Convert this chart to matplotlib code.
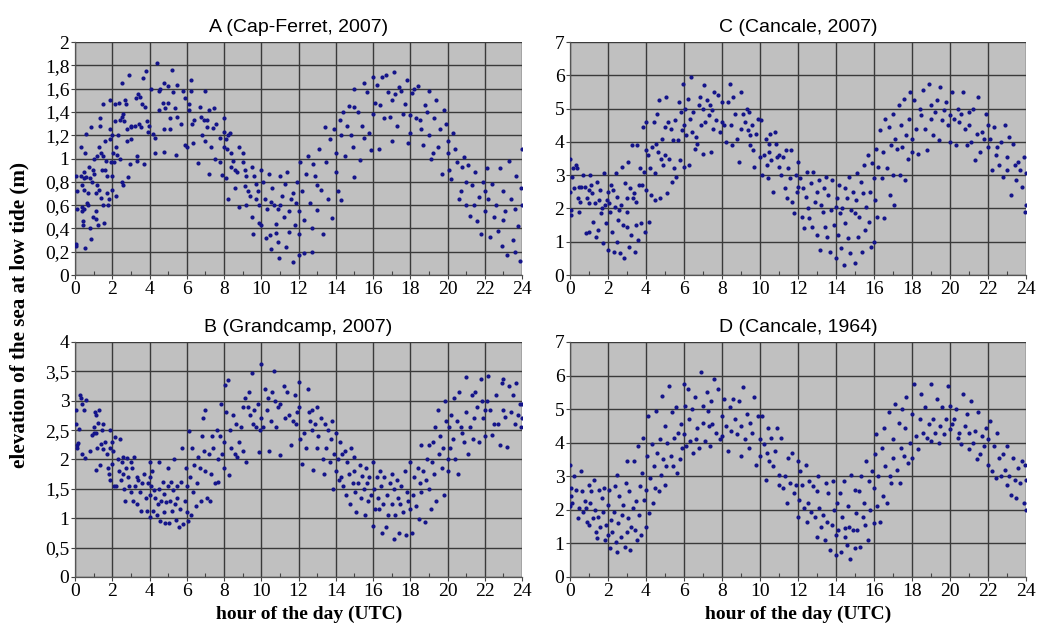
import numpy as np
from matplotlib import pyplot as plt
from matplotlib.ticker import FuncFormatter, MultipleLocator

# (hour, elevation) pairs
cap_ferret_2007 = [
    (0.05,0.27),(0.05,0.25),(0.05,0.85),(0.1,0.72),(0.1,0.57),(0.3,1.1),(0.3,0.85),(0.35,0.77),(0.4,0.58),(0.4,0.55),
    (0.45,0.46),(0.45,0.43),(0.5,0.88),(0.5,0.83),(0.5,0.73),(0.5,0.57),(0.55,0.23),(0.55,1.05),(0.6,1.21),(0.6,0.84),
    (0.65,0.62),(0.7,0.6),(0.7,0.7),(0.75,0.93),(0.8,0.83),(0.8,0.4),(0.85,0.31),(0.85,1.27),(0.9,0.8),(0.95,0.9),
    (0.95,0.5),(1.0,1.0),(1.0,0.87),(1.1,0.7),(1.1,0.55),(1.15,0.48),(1.2,1.02),(1.2,0.77),(1.25,0.43),(1.3,1.1),
    (1.3,0.73),(1.35,1.28),(1.35,1.35),(1.4,1.05),(1.4,0.66),(1.45,0.9),(1.5,1.02),(1.5,0.6),(1.5,1.47),(1.55,0.45),
    (1.6,0.9),(1.6,1.15),(1.65,0.98),(1.7,0.85),(1.7,0.7),(1.75,0.6),(1.8,0.65),(1.85,1.25),(1.9,1.17),(1.9,1.5),
    (1.95,0.97),(2.0,1.2),(2.0,0.73),(2.0,0.85),(2.05,1.05),(2.1,0.97),(2.15,1.47),(2.15,1.32),(2.2,1.1),(2.2,0.68),
    (2.25,1.03),(2.3,1.2),(2.35,1.48),(2.4,1.33),(2.4,1.0),(2.5,1.36),(2.5,1.65),(2.5,0.8),(2.55,0.77),(2.6,1.38),
    (2.65,1.32),(2.7,1.5),(2.75,1.47),(2.8,1.25),(2.8,1.15),(2.85,0.84),(2.9,1.72),(2.95,0.95),(3.0,1.28),(3.0,1.17),
    (3.0,1.27),(3.2,1.28),(3.25,1.52),(3.3,1.02),(3.35,0.98),(3.4,1.55),(3.45,1.3),(3.5,1.53),(3.55,1.27),(3.6,1.47),
    (3.65,1.69),(3.7,0.95),(3.75,1.44),(3.8,1.75),(3.85,1.32),(3.9,1.23),(3.95,1.28),(4.1,1.6),(4.2,1.21),(4.3,1.05),
    (4.3,1.18),(4.4,1.82),(4.5,1.58),(4.5,1.42),(4.55,1.6),(4.7,1.48),(4.75,1.65),(4.8,1.25),(4.8,1.06),(4.85,1.43),
    (5.0,1.62),(5.0,1.48),(5.1,1.35),(5.1,1.25),(5.2,1.76),(5.25,1.57),(5.35,1.43),(5.4,1.03),(5.5,1.63),(5.5,1.36),
    (5.7,1.3),(5.8,1.58),(5.9,1.52),(5.9,1.12),(6.0,1.1),(6.1,1.47),(6.1,1.42),(6.2,1.67),(6.2,1.58),(6.3,1.3),
    (6.35,1.13),(6.4,1.33),(6.6,0.96),(6.7,1.44),(6.75,1.36),(6.8,1.2),(6.9,1.33),(7.0,1.15),(7.0,1.58),(7.1,1.33),
    (7.1,1.27),(7.2,0.87),(7.2,1.42),(7.3,1.1),(7.4,1.26),(7.45,1.43),(7.5,1.0),(7.55,1.3),(7.8,1.18),(7.8,0.97),
    (7.9,0.86),(8.0,1.1),(8.0,1.23),(8.0,1.35),(8.1,1.17),(8.1,0.83),(8.15,1.08),(8.2,1.2),(8.2,0.65),(8.3,1.22),
    (8.4,1.05),(8.4,0.93),(8.5,0.98),(8.6,0.9),(8.6,0.75),(8.7,0.88),(8.8,1.1),(8.8,0.58),(9.0,1.05),(9.0,0.97),
    (9.1,0.9),(9.1,0.76),(9.2,0.85),(9.2,0.6),(9.3,0.72),(9.4,0.68),(9.5,0.93),(9.5,0.5),(9.55,0.35),(9.6,0.85),
    (9.7,0.78),(9.7,0.65),(9.8,0.72),(9.9,0.6),(9.9,0.45),(10.0,0.9),(10.0,0.43),(10.1,0.8),(10.2,0.65),(10.25,0.32),
    (10.3,0.57),(10.4,0.87),(10.45,0.34),(10.5,0.22),(10.5,0.63),(10.6,0.75),(10.7,0.6),(10.8,0.44),(10.8,0.36),(10.9,0.57),
    (10.9,0.28),(10.95,0.15),(11.0,0.85),(11.0,0.6),(11.1,0.68),(11.2,0.5),(11.3,0.78),(11.35,0.24),(11.4,0.88),(11.5,0.55),
    (11.5,0.37),(11.6,0.65),(11.7,0.7),(11.7,0.11),(11.8,0.43),(11.85,0.62),(11.9,0.8),(12.0,0.55),(12.0,0.35),(12.0,0.17),
    (12.1,0.97),(12.2,0.72),(12.3,0.47),(12.3,0.19),(12.4,0.87),(12.5,1.02),(12.6,0.62),(12.7,0.4),(12.75,0.2),(12.8,0.95),
    (12.9,0.85),(13.0,0.56),(13.0,0.77),(13.1,1.08),(13.2,0.73),(13.3,0.35),(13.4,1.27),(13.5,0.97),(13.6,0.65),(13.7,1.17),
    (13.8,0.49),(13.9,1.25),(14.0,1.05),(14.0,0.88),(14.1,0.72),(14.2,1.33),(14.3,1.2),(14.3,0.64),(14.4,1.4),(14.5,1.02),
    (14.6,1.28),(14.7,1.45),(14.8,1.2),(14.9,1.1),(15.0,0.84),(15.0,1.44),(15.0,1.6),(15.2,1.4),(15.3,0.99),(15.4,1.28),
    (15.5,1.65),(15.5,1.18),(15.7,1.57),(15.8,1.22),(15.9,1.07),(16.0,1.7),(16.0,1.38),(16.1,1.48),(16.2,1.63),(16.3,1.08),
    (16.4,1.46),(16.5,1.7),(16.6,1.35),(16.7,1.72),(16.8,1.57),(16.9,1.36),(17.0,1.15),(17.0,1.5),(17.1,1.74),(17.2,1.55),
    (17.3,1.28),(17.4,1.61),(17.5,1.58),(17.6,1.38),(17.7,1.47),(17.8,1.67),(17.9,1.13),(18.0,1.22),(18.0,1.37),(18.1,1.56),
    (18.2,1.6),(18.3,1.35),(18.4,1.62),(18.5,1.33),(18.6,1.25),(18.7,1.12),(18.8,1.46),(18.9,1.4),(19.0,1.58),(19.0,1.2),
    (19.1,1.0),(19.2,1.05),(19.3,1.35),(19.4,1.5),(19.5,1.1),(19.6,1.25),(19.7,0.87),(19.8,1.42),(19.9,1.3),(20.0,1.05),
    (20.0,1.15),(20.1,0.9),(20.2,0.82),(20.3,1.22),(20.4,1.08),(20.5,0.97),(20.6,0.65),(20.7,0.72),(20.8,0.93),(20.9,1.01),
    (21.0,0.8),(21.0,0.6),(21.1,0.94),(21.2,0.51),(21.3,0.77),(21.4,0.6),(21.5,0.88),(21.6,0.46),(21.7,0.67),(21.8,0.35),
    (21.9,0.8),(22.0,0.55),(22.0,0.72),(22.1,0.92),(22.2,0.65),(22.3,0.33),(22.4,0.78),(22.5,0.5),(22.6,0.6),(22.7,0.38),
    (22.8,0.92),(22.9,0.25),(23.0,0.72),(23.0,0.47),(23.1,0.55),(23.2,0.17),(23.3,0.98),(23.4,0.65),(23.5,0.3),(23.6,0.57),
    (23.7,0.85),(23.8,0.42),(23.9,0.12),(24.0,0.6),(24.0,1.08),(23.95,0.75),(23.6,0.2),
]

grandcamp_2007 = [
    (0.05,2.6),(0.05,2.85),(0.1,2.25),(0.1,2.2),(0.15,2.28),(0.2,2.52),(0.25,3.1),(0.3,3.05),(0.35,2.95),(0.4,2.1),
    (0.5,2.85),(0.55,2.02),(0.6,3.02),(0.8,2.15),(0.9,2.42),(1.0,2.45),(1.0,2.55),(1.05,2.8),(1.1,2.75),(1.1,1.82),
    (1.15,2.45),(1.2,2.2),(1.25,2.62),(1.3,2.85),(1.35,1.9),(1.4,2.27),(1.45,2.5),(1.5,2.6),(1.5,2.18),(1.6,2.3),
    (1.7,2.1),(1.75,1.85),(1.8,1.75),(1.85,1.65),(1.9,2.5),(1.9,2.2),(2.0,2.3),(2.0,1.92),(2.05,2.15),(2.1,1.55),
    (2.15,2.38),(2.2,1.55),(2.3,2.0),(2.35,1.8),(2.4,2.35),(2.45,1.65),(2.5,1.95),(2.55,1.75),(2.6,2.05),(2.65,1.5),
    (2.7,1.3),(2.75,1.85),(2.8,2.02),(2.85,1.7),(2.9,1.55),(3.0,1.95),(3.0,1.45),(3.05,1.85),(3.1,1.3),(3.15,2.05),
    (3.2,1.55),(3.3,1.7),(3.35,1.25),(3.4,1.65),(3.5,1.45),(3.55,1.13),(3.6,1.6),(3.7,1.75),(3.8,1.35),(3.85,1.12),
    (3.9,1.6),(4.0,1.95),(4.0,1.7),(4.0,1.4),(4.05,1.02),(4.1,1.55),(4.15,1.8),(4.2,1.12),(4.25,1.48),(4.3,1.35),
    (4.4,1.05),(4.45,1.25),(4.5,1.95),(4.5,1.5),(4.55,0.95),(4.6,1.3),(4.7,1.62),(4.75,1.1),(4.8,1.42),(4.85,0.92),
    (4.9,1.28),(5.0,1.55),(5.0,1.85),(5.05,0.92),(5.1,1.3),(5.15,1.62),(5.2,1.12),(5.25,1.48),(5.3,2.0),(5.35,1.25),
    (5.4,0.97),(5.5,1.55),(5.5,1.35),(5.6,0.85),(5.65,1.15),(5.7,1.62),(5.75,2.2),(5.8,0.9),(5.9,1.3),(5.95,1.85),
    (6.0,1.55),(6.0,1.1),(6.05,0.95),(6.1,2.48),(6.15,1.7),(6.2,1.05),(6.3,2.2),(6.35,1.45),(6.4,1.9),(6.5,1.2),
    (6.55,1.6),(6.6,2.05),(6.7,1.85),(6.75,1.3),(6.8,2.4),(6.85,2.7),(6.9,2.15),(7.0,1.8),(7.0,2.85),(7.1,1.35),
    (7.2,2.1),(7.25,1.3),(7.3,1.75),(7.35,2.4),(7.4,2.2),(7.5,1.6),(7.6,2.5),(7.65,2.0),(7.7,1.62),(7.8,2.4),
    (7.85,2.95),(7.9,2.1),(8.0,2.3),(8.0,1.85),(8.05,3.27),(8.1,2.8),(8.2,3.35),(8.25,1.73),(8.3,2.5),(8.4,2.2),
    (8.5,2.75),(8.6,2.1),(8.65,2.6),(8.7,2.05),(8.8,2.3),(8.9,2.55),(9.0,2.9),(9.0,2.15),(9.1,3.05),(9.2,1.95),
    (9.3,2.9),(9.35,3.15),(9.4,2.75),(9.5,3.48),(9.55,2.6),(9.6,2.85),(9.7,2.55),(9.8,2.95),(9.9,2.12),(9.95,2.5),
    (10.0,3.62),(10.0,2.7),(10.1,2.55),(10.2,3.2),(10.3,2.85),(10.35,3.05),(10.4,2.15),(10.5,2.65),(10.6,3.15),(10.7,3.5),
    (10.75,3.0),(10.8,2.55),(10.9,2.9),(11.0,2.95),(11.0,2.07),(11.2,3.25),(11.3,2.7),(11.4,3.15),(11.5,2.75),(11.6,2.25),
    (11.7,2.65),(11.8,3.1),(11.85,2.6),(11.9,2.8),(12.0,3.32),(12.0,2.9),(12.1,2.35),(12.2,1.93),(12.3,2.45),(12.4,2.2),
    (12.5,3.2),(12.55,2.8),(12.6,2.65),(12.7,2.85),(12.75,2.5),(12.8,1.82),(12.9,2.6),(13.0,2.9),(13.0,2.2),(13.05,2.4),
    (13.2,2.7),(13.3,2.0),(13.35,1.75),(13.4,2.6),(13.5,2.2),(13.6,2.5),(13.7,1.95),(13.75,2.35),(13.8,2.65),(13.85,1.5),
    (13.9,2.1),(14.0,2.45),(14.0,1.8),(14.1,2.0),(14.15,1.65),(14.2,2.3),(14.3,1.7),(14.35,2.1),(14.4,1.55),(14.5,2.15),
    (14.55,1.4),(14.6,1.95),(14.7,1.75),(14.75,1.25),(14.8,2.2),(14.9,1.6),(15.0,2.05),(15.0,1.8),(15.05,1.45),(15.1,1.1),
    (15.2,1.6),(15.3,1.9),(15.35,1.35),(15.4,1.72),(15.5,1.5),(15.55,1.05),(15.6,1.85),(15.7,1.6),(15.75,1.3),(15.8,1.7),
    (15.9,1.4),(16.0,1.95),(16.0,0.87),(16.05,1.5),(16.1,1.15),(16.2,1.7),(16.25,1.35),(16.3,1.15),(16.4,1.8),(16.45,1.55),
    (16.5,0.75),(16.55,1.25),(16.6,1.7),(16.7,0.85),(16.75,1.4),(16.8,1.05),(16.9,1.6),(17.0,1.25),(17.0,1.75),(17.1,0.65),
    (17.15,1.5),(17.2,1.05),(17.3,1.65),(17.35,1.35),(17.4,0.75),(17.45,1.25),(17.5,1.55),(17.6,1.1),(17.7,1.8),(17.75,0.72),
    (17.8,1.45),(17.9,1.3),(18.0,1.95),(18.0,1.15),(18.1,0.75),(18.15,1.4),(18.2,1.7),(18.3,1.2),(18.4,1.85),(18.45,0.98),
    (18.5,1.6),(18.55,2.25),(18.6,1.45),(18.7,1.8),(18.8,0.93),(18.85,1.65),(18.9,2.0),(19.0,2.25),(19.0,1.5),(19.1,1.15),
    (19.15,1.95),(19.2,2.3),(19.3,1.75),(19.35,2.55),(19.4,1.3),(19.5,2.85),(19.55,2.1),(19.6,2.4),(19.7,1.85),(19.75,2.2),
    (19.8,1.4),(19.85,3.0),(19.9,2.65),(20.0,2.0),(20.0,1.8),(20.1,2.55),(20.15,2.2),(20.2,2.75),(20.3,2.35),(20.35,3.05),
    (20.4,2.0),(20.5,2.65),(20.55,1.75),(20.6,3.15),(20.7,2.55),(20.8,2.45),(20.9,2.3),(21.0,2.8),(21.0,3.4),(21.1,2.1),
    (21.2,2.55),(21.3,3.1),(21.35,2.35),(21.4,2.7),(21.5,3.15),(21.6,2.9),(21.7,2.3),(21.8,3.37),(21.85,3.0),(21.9,2.7),
    (22.0,2.85),(22.0,2.4),(22.1,3.0),(22.2,3.42),(22.3,2.85),(22.4,2.42),(22.5,2.6),(22.6,3.1),(22.7,2.6),(22.8,2.25),
    (22.9,3.3),(23.0,2.85),(23.0,3.37),(23.1,2.72),(23.2,2.22),(23.3,3.25),(23.4,2.8),(23.5,3.1),(23.6,2.6),(23.7,3.3),
    (23.8,2.75),(23.9,2.95),(24.0,2.7),(24.0,2.95),(23.95,2.55),
]

cancale_2007 = [
    (0.0,3.5),(0.0,2.5),(0.05,1.8),(0.05,1.95),(0.1,2.95),(0.15,3.2),(0.2,2.6),(0.3,3.3),(0.35,3.2),(0.4,2.3),
    (0.45,2.65),(0.5,1.9),(0.55,2.2),(0.6,2.65),(0.7,3.0),(0.8,2.65),(0.85,1.25),(0.9,2.3),(1.0,1.3),(1.0,2.55),
    (1.0,2.15),(1.05,3.0),(1.1,2.7),(1.15,2.45),(1.2,1.6),(1.3,2.15),(1.35,1.15),(1.4,2.8),(1.5,1.35),(1.55,2.25),
    (1.6,2.55),(1.65,1.85),(1.7,2.0),(1.75,0.95),(1.8,3.05),(1.85,2.1),(1.9,1.55),(1.95,2.25),(2.0,2.5),(2.0,0.75),
    (2.05,2.15),(2.1,1.9),(2.15,2.7),(2.2,1.3),(2.25,2.55),(2.3,0.7),(2.35,2.05),(2.4,3.05),(2.45,1.0),(2.5,2.35),
    (2.55,1.65),(2.6,1.95),(2.65,0.65),(2.7,2.1),(2.75,3.25),(2.8,1.5),(2.85,0.5),(2.9,2.75),(3.0,1.9),(3.0,2.3),
    (3.0,1.45),(3.05,3.4),(3.1,0.85),(3.15,2.6),(3.2,1.2),(3.25,3.9),(3.3,2.3),(3.35,2.45),(3.4,0.7),(3.45,1.5),
    (3.5,2.2),(3.55,3.9),(3.6,1.05),(3.65,2.7),(3.7,3.2),(3.75,1.55),(3.8,2.7),(3.85,4.45),(3.9,3.1),(3.95,1.3),
    (4.0,2.55),(4.0,3.75),(4.0,4.6),(4.1,3.6),(4.15,1.6),(4.2,3.2),(4.25,2.4),(4.3,3.85),(4.4,4.6),(4.45,3.05),
    (4.5,2.25),(4.55,3.95),(4.6,4.85),(4.65,3.7),(4.7,5.25),(4.75,2.3),(4.8,3.5),(4.85,4.1),(4.9,3.3),(5.0,4.45),
    (5.0,3.6),(5.05,5.35),(5.1,2.45),(5.15,4.6),(5.2,3.5),(5.3,4.4),(5.35,2.8),(5.4,4.05),(5.5,3.2),(5.55,4.65),
    (5.6,2.95),(5.7,4.05),(5.75,5.2),(5.8,3.45),(5.85,4.9),(5.9,4.35),(5.95,5.75),(6.0,3.25),(6.0,4.5),(6.05,5.0),
    (6.1,4.2),(6.2,5.3),(6.25,3.3),(6.3,4.7),(6.35,5.95),(6.4,4.3),(6.5,4.9),(6.6,3.8),(6.65,4.15),(6.7,3.95),
    (6.8,5.1),(6.85,5.35),(6.9,4.5),(7.0,5.0),(7.0,3.65),(7.05,5.7),(7.1,4.6),(7.2,5.25),(7.3,4.8),(7.35,5.1),
    (7.4,3.7),(7.5,4.95),(7.55,4.4),(7.6,5.5),(7.7,4.65),(7.8,5.4),(7.9,4.3),(8.0,5.2),(8.0,4.6),(8.1,4.5),
    (8.2,4.0),(8.3,5.2),(8.4,5.75),(8.5,4.5),(8.55,3.9),(8.6,5.35),(8.7,4.85),(8.8,4.1),(8.9,3.4),(9.0,5.5),
    (9.0,4.4),(9.1,4.85),(9.2,4.6),(9.3,5.0),(9.35,4.35),(9.4,4.9),(9.45,4.2),(9.5,3.9),(9.6,4.5),(9.65,3.75),
    (9.7,3.25),(9.8,4.25),(9.9,4.7),(10.0,3.55),(10.05,4.65),(10.1,3.0),(10.2,3.6),(10.3,4.1),(10.35,3.3),(10.4,2.9),
    (10.45,3.95),(10.5,3.7),(10.55,4.25),(10.6,3.45),(10.7,2.5),(10.8,4.3),(10.85,3.95),(10.9,3.55),(11.0,3.25),(11.0,3.6),
    (11.1,3.0),(11.2,3.55),(11.3,2.6),(11.35,3.75),(11.4,2.3),(11.5,3.2),(11.6,2.9),(11.65,3.75),(11.7,2.2),(11.8,1.85),
    (11.9,3.0),(11.95,2.5),(12.0,3.4),(12.0,2.65),(12.1,2.9),(12.2,1.75),(12.25,2.6),(12.3,1.4),(12.4,2.35),(12.5,3.1),
    (12.55,2.0),(12.6,1.7),(12.7,2.75),(12.75,1.45),(12.8,3.1),(12.9,2.2),(13.0,2.5),(13.0,1.2),(13.1,2.85),(13.15,0.75),
    (13.2,2.1),(13.3,1.9),(13.35,2.6),(13.4,1.45),(13.5,2.95),(13.55,1.15),(13.6,2.4),(13.7,0.7),(13.75,1.95),(13.8,2.85),
    (13.9,1.5),(14.0,2.05),(14.0,0.5),(14.05,2.3),(14.1,1.2),(14.15,2.7),(14.2,1.85),(14.25,0.8),(14.3,2.0),(14.4,0.3),
    (14.45,2.6),(14.5,1.55),(14.6,2.3),(14.65,1.1),(14.7,2.95),(14.75,0.65),(14.8,1.95),(14.9,2.5),(15.0,1.85),(15.0,0.35),
    (15.05,2.25),(15.1,3.05),(15.15,1.15),(15.2,1.75),(15.3,2.8),(15.35,0.7),(15.4,2.45),(15.5,3.3),(15.55,1.35),(15.6,2.05),
    (15.7,3.6),(15.75,1.6),(15.8,2.5),(15.85,0.85),(15.9,3.35),(16.0,2.9),(16.0,1.0),(16.05,2.25),(16.1,3.8),(16.15,1.75),
    (16.2,3.25),(16.3,4.35),(16.4,2.9),(16.5,3.7),(16.55,1.7),(16.6,4.7),(16.7,3.2),(16.8,4.45),(16.85,2.4),(16.9,3.9),
    (17.0,3.0),(17.0,4.85),(17.05,2.1),(17.1,4.1),(17.2,3.8),(17.3,5.1),(17.35,3.0),(17.4,4.5),(17.5,3.85),(17.6,5.3),
    (17.65,2.85),(17.7,4.2),(17.8,3.5),(17.85,4.7),(17.9,5.5),(18.0,4.1),(18.0,3.7),(18.1,5.25),(18.2,4.4),(18.3,3.65),
    (18.4,5.0),(18.5,4.8),(18.6,5.55),(18.7,4.4),(18.8,3.75),(18.9,5.75),(19.0,4.7),(19.0,5.1),(19.1,4.2),(19.2,4.9),
    (19.3,5.25),(19.4,4.05),(19.5,5.65),(19.6,4.65),(19.7,4.95),(19.8,5.2),(19.9,4.5),(20.0,4.8),(20.0,4.0),(20.1,5.5),
    (20.2,4.7),(20.3,3.9),(20.4,5.0),(20.5,4.6),(20.6,4.85),(20.7,5.5),(20.8,4.4),(20.9,3.9),(21.0,4.9),(21.0,4.5),
    (21.1,4.0),(21.2,5.0),(21.3,3.45),(21.4,4.25),(21.5,5.35),(21.6,3.7),(21.7,4.3),(21.8,4.1),(21.9,4.85),(22.0,3.85),
    (22.0,4.5),(22.1,4.1),(22.2,3.15),(22.3,4.45),(22.4,3.6),(22.5,3.85),(22.6,3.3),(22.7,4.0),(22.8,2.95),(22.9,4.5),
    (23.0,3.55),(23.0,3.15),(23.1,4.15),(23.2,2.4),(23.3,3.95),(23.4,3.3),(23.5,2.85),(23.6,3.4),(23.7,3.15),(23.8,2.65),
    (23.9,3.55),(24.0,2.1),(24.0,3.05),(23.95,1.9),
]

cancale_1964 = [
    (0.0,3.35),(0.0,2.1),(0.05,2.4),(0.05,2.65),(0.1,2.2),(0.2,3.0),(0.3,2.6),(0.4,1.75),(0.5,2.05),(0.6,3.15),
    (0.65,2.55),(0.7,1.95),(0.8,2.25),(0.85,2.05),(0.9,1.65),(1.0,2.75),(1.0,1.55),(1.05,2.2),(1.1,2.55),(1.2,1.75),
    (1.25,2.9),(1.3,2.0),(1.35,1.35),(1.4,1.15),(1.5,1.8),(1.55,2.6),(1.6,1.5),(1.7,2.35),(1.75,1.95),(1.8,2.65),
    (1.85,1.1),(1.9,1.55),(2.0,2.15),(2.0,1.25),(2.05,2.6),(2.1,0.85),(2.15,1.7),(2.2,1.35),(2.3,1.95),(2.35,2.7),
    (2.4,1.05),(2.45,3.05),(2.5,0.75),(2.55,1.6),(2.6,2.4),(2.7,1.2),(2.75,1.85),(2.8,2.15),(2.9,0.9),(2.95,2.8),
    (3.0,1.35),(3.0,3.45),(3.05,1.75),(3.1,2.55),(3.15,0.8),(3.2,1.5),(3.3,2.05),(3.35,3.45),(3.4,1.4),(3.5,2.25),
    (3.55,1.1),(3.6,3.9),(3.65,1.85),(3.7,2.7),(3.75,1.25),(3.8,3.1),(3.85,4.15),(3.9,2.3),(4.0,1.5),(4.0,2.6),
    (4.05,3.6),(4.1,4.8),(4.15,1.9),(4.2,2.95),(4.3,3.95),(4.35,2.2),(4.4,3.3),(4.5,2.65),(4.55,4.95),(4.6,3.7),
    (4.7,2.55),(4.75,4.1),(4.8,3.05),(4.85,5.4),(4.9,3.5),(5.0,2.75),(5.0,4.5),(5.05,3.3),(5.1,4.0),(5.2,5.7),
    (5.3,3.6),(5.35,4.9),(5.4,3.3),(5.5,4.15),(5.6,5.05),(5.65,3.1),(5.7,4.3),(5.8,3.5),(5.85,4.55),(5.9,3.85),
    (6.0,5.75),(6.0,4.25),(6.05,5.1),(6.1,3.9),(6.2,5.6),(6.25,4.7),(6.3,4.05),(6.4,5.0),(6.5,3.7),(6.6,5.35),
    (6.65,4.1),(6.7,4.45),(6.8,3.85),(6.9,6.1),(7.0,4.6),(7.0,5.1),(7.1,4.05),(7.2,5.5),(7.25,4.95),(7.3,4.5),
    (7.35,3.9),(7.4,5.25),(7.5,4.55),(7.6,5.9),(7.7,4.3),(7.8,5.6),(7.9,4.1),(8.0,4.8),(8.0,4.2),(8.1,5.3),
    (8.2,4.5),(8.3,3.75),(8.4,5.05),(8.5,4.35),(8.6,5.3),(8.7,4.7),(8.8,4.25),(8.9,5.25),(9.0,4.5),(9.0,3.6),
    (9.1,5.65),(9.2,4.1),(9.3,4.85),(9.4,3.85),(9.5,4.6),(9.6,4.3),(9.7,5.35),(9.8,3.35),(9.9,4.8),(10.0,3.6),
    (10.0,4.1),(10.1,4.8),(10.2,3.95),(10.3,2.9),(10.35,3.7),(10.4,4.45),(10.5,3.45),(10.6,4.15),(10.7,3.3),(10.8,3.75),
    (10.9,4.45),(11.0,3.05),(11.0,2.75),(11.1,4.15),(11.2,2.65),(11.3,3.0),(11.4,2.2),(11.5,3.55),(11.6,2.8),(11.7,3.7),
    (11.8,2.5),(11.9,2.75),(12.0,3.45),(12.0,1.8),(12.05,2.3),(12.1,3.15),(12.2,2.75),(12.3,2.05),(12.4,3.35),(12.5,1.65),
    (12.55,2.2),(12.6,2.85),(12.7,1.95),(12.8,2.7),(12.9,1.8),(13.0,2.55),(13.0,1.2),(13.05,3.0),(13.1,2.05),(13.2,1.5),
    (13.3,1.85),(13.4,1.1),(13.5,2.8),(13.55,1.65),(13.6,2.5),(13.7,0.8),(13.8,1.55),(13.85,2.85),(13.9,2.0),(14.0,1.25),
    (14.0,0.65),(14.05,2.2),(14.1,1.4),(14.2,2.5),(14.25,0.75),(14.3,1.8),(14.4,2.85),(14.45,1.45),(14.5,1.2),(14.6,0.95),
    (14.65,2.1),(14.7,1.5),(14.75,0.55),(14.8,3.05),(14.9,1.4),(15.0,2.6),(15.0,0.85),(15.05,1.9),(15.1,1.4),(15.2,2.55),
    (15.25,0.9),(15.3,3.0),(15.4,1.8),(15.5,2.2),(15.55,1.55),(15.6,3.45),(15.7,1.1),(15.75,2.85),(15.8,2.0),(15.9,3.15),
    (16.0,1.6),(16.0,2.65),(16.05,3.65),(16.1,4.25),(16.15,2.1),(16.2,3.0),(16.3,1.65),(16.4,3.85),(16.5,2.4),(16.55,4.45),
    (16.6,3.3),(16.7,2.2),(16.8,4.9),(16.85,3.0),(16.9,2.8),(17.0,3.55),(17.0,4.1),(17.1,5.15),(17.2,3.2),(17.3,4.6),
    (17.35,2.8),(17.4,3.85),(17.5,5.0),(17.6,3.6),(17.65,4.45),(17.7,5.35),(17.8,3.4),(17.9,4.0),(18.0,4.85),(18.0,3.55),
    (18.1,5.75),(18.2,4.2),(18.3,3.8),(18.4,4.7),(18.5,5.45),(18.6,4.3),(18.7,5.05),(18.8,4.15),(18.9,4.55),(19.0,5.75),
    (19.0,4.05),(19.1,4.7),(19.2,4.3),(19.3,5.3),(19.4,4.0),(19.5,4.5),(19.6,5.05),(19.7,4.25),(19.8,4.7),(19.9,5.7),
    (20.0,4.4),(20.0,5.1),(20.1,4.55),(20.2,4.7),(20.3,5.0),(20.4,4.15),(20.5,4.3),(20.6,3.95),(20.7,5.45),(20.8,4.5),
    (20.9,4.85),(21.0,3.8),(21.0,4.3),(21.1,5.25),(21.2,4.0),(21.3,4.35),(21.4,3.5),(21.5,4.9),(21.6,3.65),(21.7,4.2),
    (21.8,3.9),(21.9,4.45),(22.0,3.35),(22.0,4.1),(22.1,4.65),(22.2,3.15),(22.3,3.9),(22.4,2.95),(22.5,4.3),(22.6,3.55),
    (22.7,3.0),(22.8,3.65),(22.9,3.2),(23.0,2.75),(23.0,3.9),(23.1,3.0),(23.2,2.45),(23.3,3.55),(23.4,2.9),(23.5,2.35),
    (23.6,3.25),(23.7,2.8),(23.8,3.45),(23.9,2.2),(24.0,2.0),(24.0,2.9),(23.95,3.35),
]

titles = ["A (Cap-Ferret, 2007)", "B (Grandcamp, 2007)", "C (Cancale, 2007)", "D (Cancale, 1964)"]
y_max = [2, 4, 7, 7]
y_step = [0.2, 0.5, 1, 1]

panels = [cap_ferret_2007, grandcamp_2007, cancale_2007, cancale_1964]
# left, bottom, width, height in figure fractions
boxes = [
    [0.0723, 0.5607, 0.4306, 0.3722],
    [0.0723, 0.0783, 0.4306, 0.3754],
    [0.5491, 0.5607, 0.4393, 0.3722],
    [0.5491, 0.0783, 0.4393, 0.3754],
]

comma = FuncFormatter(lambda v, pos: ("%g" % round(v, 2)).replace(".", ","))

fig = plt.figure(figsize=(10.38, 6.26), dpi=100)
for pts, title, ymax, step, box in zip(panels, titles, y_max, y_step, boxes):
    ax = fig.add_axes(box)
    ax.set_facecolor("#c0c0c0")
    pts = np.array(pts)
    ax.scatter(pts[:, 0], pts[:, 1], s=9, color="#14148a", marker="o", linewidths=0, zorder=3)
    ax.set_xlim(0, 24)
    ax.set_ylim(0, ymax)
    ax.xaxis.set_major_locator(MultipleLocator(2))
    ax.xaxis.set_minor_locator(MultipleLocator(1))
    ax.yaxis.set_major_locator(MultipleLocator(step))
    ax.yaxis.set_major_formatter(comma)
    ax.grid(True, which="major", color="#3a3a3a", linewidth=1.0, zorder=1)
    ax.set_axisbelow(True)
    for s in ["top", "right"]:
        ax.spines[s].set_visible(False)
    for s in ["left", "bottom"]:
        ax.spines[s].set_color("#555555")
        ax.spines[s].set_linewidth(0.9)
    ax.tick_params(which="major", direction="out", length=3, width=0.8, color="#444444", pad=1)
    ax.tick_params(axis="x", which="minor", direction="in", length=3, width=0.8, color="#444444")
    for lab in ax.get_xticklabels() + ax.get_yticklabels():
        lab.set_fontfamily("Liberation Serif")
        lab.set_fontsize(14)
    ax.set_title(title, fontfamily="Liberation Sans", fontsize=14, pad=7)

for xc in [0.298, 0.769]:
    fig.text(xc, 0.012, "hour of the day (UTC)", ha="center", va="baseline",
             fontfamily="Liberation Serif", fontweight="bold", fontsize=14)
fig.text(0.019, 0.497, "elevation of the sea at low tide (m)", ha="center", va="center",
         rotation=90, fontfamily="Liberation Serif", fontweight="bold", fontsize=15.2)

plt.savefig("out.png", dpi=100)
